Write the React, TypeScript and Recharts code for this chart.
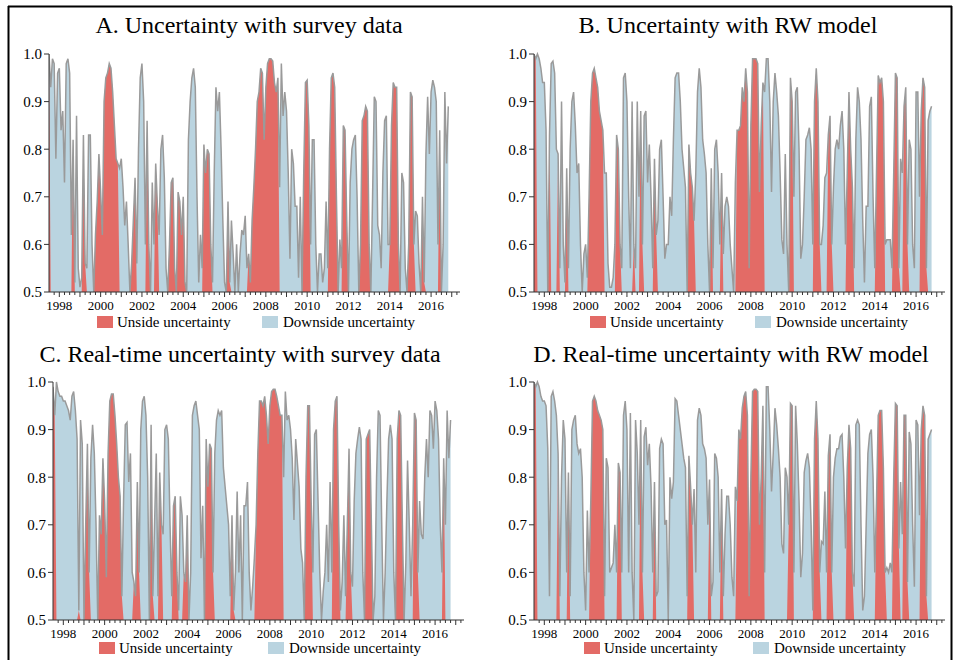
import { ComposedChart, Area, Line, XAxis, YAxis } from "recharts";

const FONT = '"Liberation Serif", "Times New Roman", serif';
const RED = "#e36b66";
const BLUE = "#bad4e0";
const LINE = "#9a9a9a";
const AXIS = "#333";

// monthly observations start in 1997M07
const START_YEAR = 1997.5;
const X_DOMAIN: [number, number] = [1997.5, 2017.4];
const Y_TICKS = [0.5, 0.6, 0.7, 0.8, 0.9, 1.0];

// A. Uncertainty with survey data
const surveyProb = [
  1.00, 0.93, 0.99, 0.98, 0.78, 0.96,
  0.97, 0.84, 0.88, 0.73, 0.98, 0.99, 0.96, 0.62, 0.82, 0.52, 0.87, 0.55,
  0.51, 0.53, 0.83, 0.56, 0.55, 0.83, 0.83, 0.60, 0.50, 0.62, 0.69, 0.79,
  0.71, 0.62, 0.90, 0.95, 0.96, 0.98, 0.97, 0.92, 0.85, 0.78, 0.77, 0.76,
  0.78, 0.72, 0.64, 0.69, 0.60, 0.50, 0.56, 0.65, 0.74, 0.56, 0.80, 0.95,
  0.98, 0.90, 0.60, 0.86, 0.60, 0.50, 0.73, 0.60, 0.77, 0.68, 0.62, 0.80,
  0.83, 0.74, 0.55, 0.50, 0.60, 0.73, 0.74, 0.55, 0.50, 0.71, 0.69, 0.62,
  0.70, 0.52, 0.50, 0.82, 0.90, 0.95, 0.97, 0.93, 0.70, 0.52, 0.62, 0.55,
  0.81, 0.75, 0.80, 0.79, 0.60, 0.52, 0.75, 0.93, 0.88, 0.92, 0.80, 0.65,
  0.52, 0.50, 0.69, 0.52, 0.65, 0.58, 0.50, 0.60, 0.50, 0.58, 0.63, 0.62,
  0.66, 0.55, 0.58, 0.52, 0.65, 0.72, 0.80, 0.90, 0.92, 0.97, 0.96, 0.82,
  0.93, 0.98, 0.99, 0.99, 0.985, 0.94, 0.92, 0.95, 0.72, 0.98, 0.87, 0.92,
  0.88, 0.75, 0.57, 0.80, 0.77, 0.68, 0.68, 0.53, 0.70, 0.50, 0.75, 0.94,
  0.945, 0.85, 0.60, 0.82, 0.82, 0.60, 0.50, 0.58, 0.58, 0.52, 0.55, 0.69,
  0.55, 0.80, 0.95, 0.96, 0.93, 0.70, 0.50, 0.61, 0.55, 0.85, 0.84, 0.65,
  0.50, 0.73, 0.80, 0.82, 0.83, 0.70, 0.50, 0.60, 0.86, 0.87, 0.89, 0.88,
  0.60, 0.50, 0.70, 0.91, 0.90, 0.64, 0.62, 0.55, 0.75, 0.86, 0.87, 0.60,
  0.60, 0.85, 0.94, 0.93, 0.93, 0.60, 0.50, 0.75, 0.73, 0.55, 0.50, 0.60,
  0.92, 0.91, 0.60, 0.67, 0.66, 0.56, 0.50, 0.70, 0.52, 0.79, 0.91, 0.79,
  0.92, 0.945, 0.93, 0.90, 0.60, 0.84, 0.50, 0.60, 0.92, 0.77, 0.89,
];
// u = upside, d = downside (one letter per month, grouped by year)
const surveyRegime = [
  "u ddddd",
  "dddddddd u ddd", "dd uu ddddd uuu", "uuuuuuuuuuu d", "dddddd uuu ddd",
  "ddd uu ddd uu dd", "dddd uuuu d uuu", "uu dddddddddd", "uuuuu ddddddd",
  "dd uu dddddddd", "dd uuuuuuuuuu", "uuuuuuuu dddd", "dddddddddd uu",
  "uu dddddddddd", "d uuuuu ddd uuu", "ddddddd uuuuu", "u ddddddddddd",
  "uuuuuu ddddd u", "uuu dddd uu ddd", "ddddd uu dddd",
].join("");

// B. Uncertainty with RW model
const rwProb = [
  1.00, 0.99, 1.00, 0.99, 0.97, 0.94,
  0.94, 0.84, 0.50, 0.83, 0.98, 0.985, 0.96, 0.80, 0.79, 0.55, 0.90, 0.60,
  0.52, 0.76, 0.55, 0.80, 0.90, 0.92, 0.85, 0.75, 0.77, 0.60, 0.50, 0.58,
  0.60, 0.53, 0.70, 0.90, 0.96, 0.97, 0.95, 0.93, 0.88, 0.86, 0.84, 0.75,
  0.75, 0.56, 0.51, 0.51, 0.53, 0.60, 0.83, 0.80, 0.60, 0.55, 0.95, 0.96,
  0.90, 0.70, 0.55, 0.90, 0.60, 0.55, 0.90, 0.70, 0.88, 0.60, 0.87, 0.88,
  0.73, 0.81, 0.70, 0.55, 0.78, 0.62, 0.65, 0.80, 0.82, 0.70, 0.57, 0.60,
  0.60, 0.70, 0.66, 0.82, 0.95, 0.96, 0.96, 0.90, 0.80, 0.76, 0.72, 0.50,
  0.81, 0.75, 0.72, 0.65, 0.75, 0.92, 0.97, 0.93, 0.82, 0.79, 0.75, 0.60,
  0.50, 0.76, 0.55, 0.80, 0.82, 0.75, 0.60, 0.75, 0.58, 0.68, 0.70, 0.68,
  0.60, 0.55, 0.50, 0.73, 0.84, 0.84, 0.85, 0.93, 0.90, 0.97, 0.92, 0.55,
  0.85, 0.99, 0.99, 0.99, 0.98, 0.71, 0.85, 0.94, 0.92, 0.99, 0.99, 0.90,
  0.71, 0.90, 0.96, 0.92, 0.87, 0.75, 0.61, 0.58, 0.79, 0.60, 0.50, 0.95,
  0.90, 0.70, 0.92, 0.93, 0.80, 0.57, 0.60, 0.70, 0.82, 0.83, 0.845, 0.80,
  0.60, 0.90, 0.97, 0.90, 0.60, 0.60, 0.64, 0.74, 0.75, 0.83, 0.87, 0.60,
  0.72, 0.80, 0.82, 0.80, 0.85, 0.88, 0.80, 0.60, 0.75, 0.92, 0.80, 0.72,
  0.55, 0.82, 0.93, 0.90, 0.82, 0.65, 0.52, 0.68, 0.68, 0.89, 0.91, 0.70,
  0.55, 0.75, 0.955, 0.94, 0.95, 0.90, 0.60, 0.61, 0.61, 0.61, 0.55, 0.75,
  0.96, 0.95, 0.55, 0.78, 0.75, 0.89, 0.93, 0.60, 0.82, 0.80, 0.60, 0.55,
  0.92, 0.92, 0.70, 0.88, 0.95, 0.93, 0.55, 0.86, 0.88, 0.89,
];
const rwRegime = [
  "uu dddd",
  "ddd u dddd u ddd", "d u dddddddddd", "dd uuuuuuuuu d", "dddddd uuu ddd",
  "dddd u ddd uu dd", "dddd uu dddddd", "dddddddddddd", "uuuu dddddddd",
  "d u ddddd u dddd", "dddd uuuuuuuu", "uuuuuuuu dddd", "ddddddddddd u",
  "u ddddddddddd", "d uuuu dddd uuu", "dddddddd uuuu", "dddddddddddd",
  "d uuuuu ddddd u", "uuu dd uuu dddd", "ddd uuuu ddd",
].join("");

// C. Real-time uncertainty with survey data
const rtSurveyProb = [
  0.99, 0.93, 1.00, 0.98, 0.97, 0.97,
  0.96, 0.96, 0.95, 0.94, 0.92, 0.97, 0.98, 0.94, 0.88, 0.52, 0.92, 0.87,
  0.50, 0.70, 0.87, 0.60, 0.84, 0.91, 0.85, 0.70, 0.50, 0.72, 0.68, 0.84,
  0.75, 0.59, 0.85, 0.96, 0.975, 0.975, 0.93, 0.87, 0.80, 0.76, 0.55, 0.75,
  0.91, 0.915, 0.79, 0.85, 0.60, 0.58, 0.55, 0.79, 0.60, 0.90, 0.96, 0.97,
  0.93, 0.80, 0.50, 0.91, 0.55, 0.70, 0.85, 0.55, 0.81, 0.70, 0.68, 0.90,
  0.91, 0.88, 0.70, 0.55, 0.74, 0.76, 0.60, 0.52, 0.76, 0.72, 0.60, 0.58,
  0.72, 0.50, 0.60, 0.93, 0.95, 0.96, 0.93, 0.90, 0.63, 0.74, 0.50, 0.88,
  0.78, 0.87, 0.86, 0.60, 0.85, 0.92, 0.94, 0.93, 0.94, 0.82, 0.78, 0.74,
  0.70, 0.55, 0.72, 0.52, 0.60, 0.77, 0.60, 0.72, 0.50, 0.74, 0.74, 0.79,
  0.60, 0.52, 0.57, 0.63, 0.70, 0.85, 0.96, 0.96, 0.95, 0.97, 0.93, 0.87,
  0.95, 0.98, 0.985, 0.985, 0.97, 0.95, 0.93, 0.93, 0.80, 0.98, 0.92, 0.93,
  0.90, 0.84, 0.71, 0.88, 0.83, 0.78, 0.65, 0.62, 0.50, 0.80, 0.95, 0.95,
  0.75, 0.60, 0.89, 0.90, 0.75, 0.60, 0.50, 0.56, 0.60, 0.70, 0.58, 0.79,
  0.60, 0.90, 0.96, 0.97, 0.70, 0.52, 0.58, 0.72, 0.55, 0.70, 0.86, 0.60,
  0.57, 0.75, 0.85, 0.88, 0.905, 0.88, 0.60, 0.50, 0.88, 0.89, 0.90, 0.70,
  0.50, 0.55, 0.80, 0.94, 0.93, 0.70, 0.50, 0.60, 0.75, 0.88, 0.91, 0.88,
  0.60, 0.50, 0.88, 0.94, 0.93, 0.70, 0.50, 0.62, 0.835, 0.70, 0.55, 0.70,
  0.935, 0.92, 0.60, 0.75, 0.68, 0.67, 0.80, 0.88, 0.80, 0.94, 0.93, 0.86,
  0.96, 0.94, 0.88, 0.70, 0.60, 0.84, 0.70, 0.94, 0.84, 0.92,
];
const rtSurveyRegime = [
  "uu dddd",
  "ddddddddd u dd", "d uuu ddddd uuu", "uuuuuuuuuuu d", "ddddd uuuu ddd",
  "ddd uu ddd uu dd", "dddd uuu ddd uu", "u dddddddddd u", "uuuu dddddddd",
  "dd uu dddddddd", "dddd uuuuuuuu", "uuuuuuuu dddd", "ddddddddd uuu",
  "u ddddddddddd", "d uuuu dddd uuu", "dddddddd uuuu", "dddddddddddd",
  "dd uuuu dddddd", "uuu ddddddddd", "ddddd u dddd",
].join("");

// D. Real-time uncertainty with RW model
const rtRwProb = [
  1.00, 0.99, 1.00, 0.99, 0.97, 0.96,
  0.96, 0.95, 0.86, 0.55, 0.97, 0.98, 0.96, 0.93, 0.85, 0.55, 0.80, 0.92,
  0.88, 0.60, 0.81, 0.55, 0.90, 0.92, 0.93, 0.87, 0.85, 0.86, 0.80, 0.60,
  0.52, 0.73, 0.60, 0.75, 0.96, 0.97, 0.96, 0.94, 0.93, 0.92, 0.90, 0.55,
  0.84, 0.82, 0.60, 0.61, 0.62, 0.70, 0.60, 0.83, 0.81, 0.60, 0.93, 0.96,
  0.90, 0.60, 0.935, 0.60, 0.50, 0.92, 0.85, 0.70, 0.92, 0.60, 0.885, 0.905,
  0.825, 0.87, 0.78, 0.60, 0.79, 0.55, 0.56, 0.86, 0.88, 0.87, 0.70, 0.71,
  0.50, 0.80, 0.755, 0.79, 0.965, 0.96, 0.93, 0.90, 0.87, 0.84, 0.82, 0.55,
  0.845, 0.78, 0.70, 0.775, 0.60, 0.92, 0.945, 0.93, 0.87, 0.86, 0.84, 0.70,
  0.795, 0.55, 0.58, 0.85, 0.84, 0.80, 0.60, 0.775, 0.55, 0.68, 0.76, 0.76,
  0.70, 0.59, 0.55, 0.78, 0.75, 0.90, 0.88, 0.945, 0.97, 0.98, 0.93, 0.55,
  0.80, 0.98, 0.985, 0.985, 0.98, 0.70, 0.80, 0.95, 0.60, 0.99, 0.99, 0.90,
  0.77, 0.85, 0.945, 0.91, 0.86, 0.80, 0.66, 0.64, 0.82, 0.80, 0.70, 0.955,
  0.95, 0.60, 0.95, 0.87, 0.75, 0.59, 0.64, 0.81, 0.835, 0.85, 0.82, 0.70,
  0.52, 0.88, 0.96, 0.88, 0.60, 0.665, 0.66, 0.77, 0.60, 0.845, 0.89, 0.60,
  0.80, 0.84, 0.86, 0.86, 0.885, 0.89, 0.80, 0.65, 0.82, 0.91, 0.86, 0.60,
  0.57, 0.91, 0.92, 0.91, 0.70, 0.52, 0.55, 0.70, 0.85, 0.89, 0.90, 0.80,
  0.60, 0.75, 0.93, 0.94, 0.94, 0.82, 0.60, 0.61, 0.60, 0.62, 0.60, 0.80,
  0.955, 0.95, 0.65, 0.79, 0.68, 0.93, 0.93, 0.58, 0.895, 0.87, 0.70, 0.57,
  0.92, 0.91, 0.72, 0.90, 0.95, 0.93, 0.55, 0.88, 0.89, 0.90,
];
const rtRwRegime = [
  "uu dddd",
  "dddddddd u ddd", "dd u ddddddddd", "ddd uuuuuuuu d", "ddddddd uu ddd",
  "dddddddd uu dd", "dddd u ddddddd", "dddddddddddd", "uuu ddddddddd",
  "u dddddd u dddd", "dddd uuuuuuuu", "uuuuuuuu dddd", "dddddddddd uu",
  "u ddddddddddd", "d uuuu dddd uuu", "dddddddd uuuu", "dddddddddddd",
  "d uuuuuu dddd u", "uuu dd uuu dddd", "ddd uuuu ddd",
].join("");

const quarterTicks: number[] = [];
for (let q = 1997.75; q < 2017.4; q += 0.25) quarterTicks.push(Math.round(q * 100) / 100);

const PLOT_W = 411;
const PLOT_H = 238;

const panels = [
  { title: "A. Uncertainty with survey data", prob: surveyProb, regime: surveyRegime,
    left: 49, top: 54, titleX: 249, titleY: 33, legY: 327, redX: 97, blueX: 262 },
  { title: "B. Uncertainty with RW model", prob: rwProb, regime: rwRegime,
    left: 534, top: 54, titleX: 728, titleY: 33, legY: 327, redX: 590, blueX: 755 },
  { title: "C. Real-time uncertainty with survey data", prob: rtSurveyProb, regime: rtSurveyRegime,
    left: 53, top: 382, titleX: 240, titleY: 362, legY: 653, redX: 99, blueX: 268 },
  { title: "D. Real-time uncertainty with RW model", prob: rtRwProb, regime: rtRwRegime,
    left: 534, top: 382, titleX: 731, titleY: 362, legY: 653, redX: 584, blueX: 753 },
];

// eslint-disable-next-line @typescript-eslint/no-explicit-any
function YearTick({ x, y, payload }: any) {
  const v = payload.value as number;
  const yr = Math.round(v);
  const major = Math.abs(v - yr) < 0.01;
  return (
    <g>
      <line x1={x} x2={x} y1={y} y2={y + (major ? 5 : 3)} stroke={AXIS} />
      {major && yr % 2 === 0 && (
        <text x={x} y={y + 18} textAnchor="middle" fontSize={13} fontFamily={FONT} fill="#000">
          {yr}
        </text>
      )}
    </g>
  );
}

function UncertaintyPanel({ prob, regime, left, top }: { prob: number[]; regime: string; left: number; top: number }) {
  const reg = regime.replace(/\s/g, "");
  const data = prob.map((v, i) => ({
    t: START_YEAR + i / 12,
    v,
    up: reg[i] === "u" ? v : 0.5,
  }));
  return (
    <div style={{ position: "absolute", left: left - 45, top: top - 10 }}>
      <ComposedChart width={PLOT_W + 55} height={PLOT_H + 35} data={data}
        margin={{ top: 10, right: 10, bottom: 0, left: 0 }}>
        <XAxis dataKey="t" type="number" domain={X_DOMAIN} ticks={quarterTicks} interval={0}
          tick={(p: any) => <YearTick {...p} />} tickLine={false} tickSize={0} tickMargin={0}
          height={25} stroke={AXIS} allowDataOverflow />
        <XAxis xAxisId="top" orientation="top" dataKey="t" type="number" domain={X_DOMAIN}
          tick={false} tickLine={false} height={0} stroke="#555" />
        <YAxis domain={[0.5, 1]} ticks={Y_TICKS} interval={0} tickFormatter={(v: number) => v.toFixed(1)}
          width={45} tickSize={5} tickMargin={2} stroke={AXIS}
          tick={{ fill: "#000", fontSize: 15, fontFamily: FONT }} />
        <YAxis yAxisId="right" orientation="right" domain={[0.5, 1]} tick={false} tickLine={false}
          width={0} stroke="#555" />
        <Area dataKey="v" type="linear" fill={BLUE} fillOpacity={1} stroke="none" baseValue={0.5}
          isAnimationActive={false} />
        <Area dataKey="up" type="linear" fill={RED} fillOpacity={1} stroke="none" baseValue={0.5}
          isAnimationActive={false} />
        <Line dataKey="v" type="linear" stroke={LINE} strokeWidth={1.5} dot={false}
          isAnimationActive={false} />
      </ComposedChart>
    </div>
  );
}

export default function App() {
  return (
    <div style={{ position: "absolute", left: 0, top: 0, width: 964, height: 660, background: "#fff", overflow: "hidden" }}>
      {panels.map((p) => (
        <UncertaintyPanel key={p.title} prob={p.prob} regime={p.regime} left={p.left} top={p.top} />
      ))}
      <svg width={964} height={660} style={{ position: "absolute", left: 0, top: 0, pointerEvents: "none" }}>
        <line x1={8} y1={6.5} x2={952} y2={6.5} stroke="#000" strokeWidth={2} />
        <line x1={8.5} y1={6} x2={8.5} y2={660} stroke="#000" strokeWidth={2} />
        <line x1={951.5} y1={6} x2={951.5} y2={660} stroke="#000" strokeWidth={2} />
        {panels.map((p) => (
          <g key={p.title} fontFamily={FONT} fill="#000">
            <text x={p.titleX} y={p.titleY} textAnchor="middle" fontSize={24}>{p.title}</text>
            <rect x={p.redX} y={p.legY - 11} width={16} height={12} fill={RED} />
            <text x={p.redX + 20} y={p.legY} fontSize={15}>Unside uncertainty</text>
            <rect x={p.blueX} y={p.legY - 11} width={16} height={12} fill={BLUE} />
            <text x={p.blueX + 21} y={p.legY} fontSize={15}>Downside uncertainty</text>
          </g>
        ))}
      </svg>
    </div>
  );
}
